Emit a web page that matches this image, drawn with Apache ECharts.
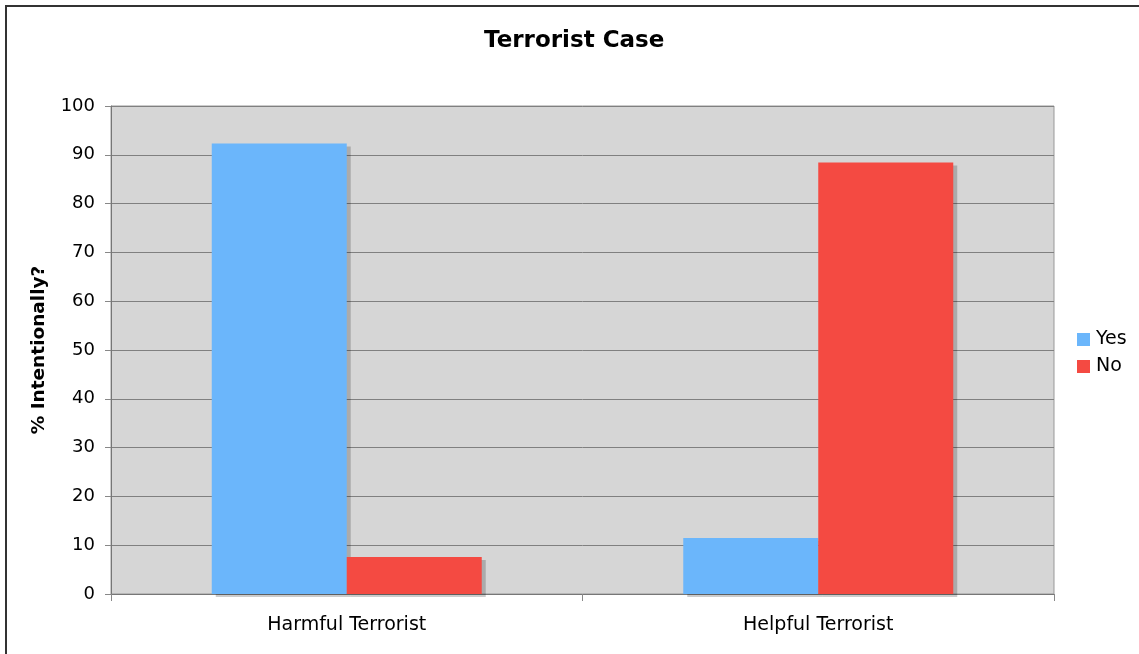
<!DOCTYPE html>
<html>
<head>
<meta charset="utf-8">
<script src="https://cdn.jsdelivr.net/npm/echarts@6/dist/echarts.min.js"></script>
<style>
html, body { margin: 0; padding: 0; background: #fff; overflow: hidden; }
#chart { width: 1139px; height: 654px; }
#frame { position: absolute; left: 5px; top: 5px; width: 1200px; height: 700px; border: 2px solid #333; box-sizing: border-box; pointer-events: none; }
</style>
</head>
<body>
<div id="chart"></div>
<div id="frame"></div>
<script>
let categories = ['Harmful Terrorist', 'Helpful Terrorist'];
let yesValues = [92.3, 11.5];
let noValues = [7.6, 88.4];

let myChart = echarts.init(document.getElementById('chart'));
let fontName = 'DejaVu Sans';
let barShadow = {
    shadowColor: 'rgba(0,0,0,0.2)',
    shadowOffsetX: 4,
    shadowOffsetY: 3,
    shadowBlur: 0
};

let option = {
    animation: false,
    textStyle: { fontFamily: fontName },
    title: {
        text: 'Terrorist Case',
        left: 479,
        top: 25,
        textStyle: { fontSize: 23, fontWeight: 'bold', color: '#000', fontFamily: fontName }
    },
    legend: {
        orient: 'vertical',
        left: 1072,
        top: 325,
        itemWidth: 13,
        itemHeight: 13,
        itemGap: 8,
        icon: 'rect',
        textStyle: { fontSize: 19, color: '#000', padding: [0, 0, 0, 1] },
        data: ['Yes', 'No']
    },
    grid: {
        left: 111,
        right: 85,
        top: 106,
        bottom: 60,
        show: true,
        backgroundColor: '#d6d6d6',
        borderColor: '#999',
        borderWidth: 1
    },
    xAxis: {
        type: 'category',
        data: categories,
        axisLine: { lineStyle: { color: '#777', width: 1 } },
        axisTick: { show: true, length: 7, lineStyle: { color: '#888' } },
        axisLabel: { fontSize: 19, color: '#000', margin: 22 }
    },
    yAxis: {
        type: 'value',
        min: 0,
        max: 100,
        interval: 10,
        name: '% Intentionally?',
        nameLocation: 'middle',
        nameGap: 62,
        nameTextStyle: { fontSize: 18.5, fontWeight: 'bold', color: '#000' },
        axisLine: { show: true, lineStyle: { color: '#777' } },
        axisTick: { show: true, length: 6, lineStyle: { color: '#888' } },
        axisLabel: { fontSize: 18, color: '#000', margin: 16 },
        splitLine: { lineStyle: { color: '#808080', width: 1 } }
    },
    series: [
        {
            name: 'Yes',
            type: 'bar',
            data: yesValues,
            barWidth: 135,
            barGap: '0%',
            itemStyle: Object.assign({ color: '#6bb6fb' }, barShadow)
        },
        {
            name: 'No',
            type: 'bar',
            data: noValues,
            barWidth: 135,
            barGap: '0%',
            itemStyle: Object.assign({ color: '#f44a42' }, barShadow)
        }
    ]
};

myChart.setOption(option);
</script>
</body>
</html>
